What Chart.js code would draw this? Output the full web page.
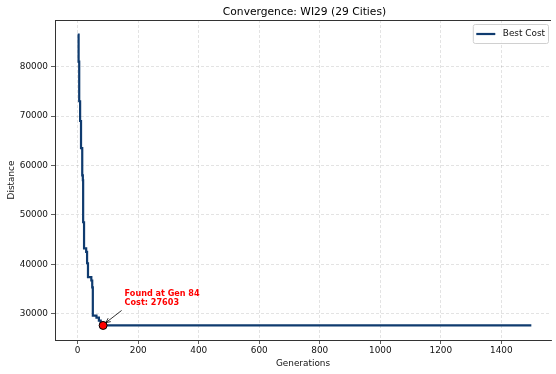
<!DOCTYPE html>
<html>
<head>
<meta charset="utf-8">
<script src="https://cdn.jsdelivr.net/npm/chart.js@4.4.1/dist/chart.umd.min.js"></script>
<style>
  html, body { margin: 0; padding: 0; background: #fff; }
  #myChart { display: block; }
</style>
</head>
<body>
<canvas id="myChart" width="556" height="374"></canvas>
<script>
// generations where best cost changed, and the cost from then on
let gens  = [0, 3, 5, 8, 11, 15, 17, 18, 21, 28, 31, 34, 45, 48, 50, 62, 70, 76, 84, 1499];
let costs = [86500, 81000, 73000, 69000, 63500, 58000, 57000, 48500, 43200, 42500, 40200, 37400, 36700, 35300, 29600, 29200, 28600, 28200, 27603, 27603];

let bestGen = 84;
let bestCost = 27603;

let xTicks = [0, 200, 400, 600, 800, 1000, 1200, 1400];
let yTicks = [30000, 40000, 50000, 60000, 70000, 80000];

// the original picture is cut off a little before the right edge of its axes
let xRange = [-75, 1564];

const titleText = 'Convergence: WI29 (29 Cities)';
const lineColor = '#0f3b6f';

Chart.defaults.font.family = "'DejaVu Sans', sans-serif";
Chart.defaults.color = '#111';

// matplotlib style 5% margins on y
const ySpan = Math.max(...costs) - Math.min(...costs);

let bestCostData = [];
for (let i = 0; i < gens.length; i++)
{
    bestCostData.push({ x: gens[i], y: costs[i] });
}

const extras = {
    id: 'extras',
    afterDraw(chart) {
        const ctx = chart.ctx;
        const a = chart.chartArea;
        ctx.save();

        // top spine (left/bottom come from the scales)
        ctx.strokeStyle = '#333';
        ctx.lineWidth = 1;
        ctx.beginPath();
        ctx.moveTo(a.left, a.top + 0.5);
        ctx.lineTo(a.right, a.top + 0.5);
        ctx.stroke();

        // title, centred on the full axes width
        const fullRight = chart.scales.x.getPixelForValue(xRange[0] + (gens[gens.length - 1] - gens[0]) * 1.1);
        ctx.fillStyle = '#000';
        ctx.font = "10.7px 'DejaVu Sans'";
        ctx.textAlign = 'center';
        ctx.textBaseline = 'middle';
        ctx.fillText(titleText, (a.left + fullRight) / 2, 12.5);

        // annotation
        const px = chart.scales.x.getPixelForValue(bestGen);
        const py = chart.scales.y.getPixelForValue(bestCost);
        const tx = px + 18.5, ty = py - 15;
        const hx = px + 2.8, hy = py - 2.8;
        ctx.strokeStyle = '#000';
        ctx.lineWidth = 0.8;
        ctx.beginPath();
        ctx.moveTo(tx, ty);
        ctx.lineTo(hx, hy);
        const ang = Math.atan2(hy - ty, hx - tx);
        for (const s of [-0.45, 0.45]) {
            ctx.moveTo(hx, hy);
            ctx.lineTo(hx - 5 * Math.cos(ang + s), hy - 5 * Math.sin(ang + s));
        }
        ctx.stroke();

        ctx.fillStyle = '#ff0000';
        ctx.font = "bold 8.1px 'DejaVu Sans'";
        ctx.textAlign = 'left';
        ctx.fillText('Found at Gen ' + bestGen, px + 21.5, py - 31.5);
        ctx.fillText('Cost: ' + bestCost, px + 21.5, py - 22.3);

        // legend
        ctx.font = "8.9px 'DejaVu Sans'";
        const label = 'Best Cost';
        const w = 3 + 19.5 + 7 + ctx.measureText(label).width + 3.5;
        const h = 19;
        const bx = a.right - 3 - w, by = a.top + 4;
        ctx.fillStyle = 'rgba(255,255,255,0.8)';
        ctx.strokeStyle = '#d0d0d0';
        ctx.lineWidth = 1;
        ctx.beginPath();
        ctx.roundRect(bx + 0.5, by + 0.5, w, h, 2);
        ctx.fill();
        ctx.stroke();
        ctx.strokeStyle = lineColor;
        ctx.lineWidth = 2.2;
        ctx.beginPath();
        ctx.moveTo(bx + 3.5, by + h / 2 + 0.5);
        ctx.lineTo(bx + 22.5, by + h / 2 + 0.5);
        ctx.stroke();
        ctx.fillStyle = '#111';
        ctx.textBaseline = 'middle';
        ctx.fillText(label, bx + 30, by + h / 2 + 0.5);

        ctx.restore();
    }
};

const config = {
    type: 'line',
    data: {
        datasets: [
            {
                label: 'Best Cost',
                data: bestCostData,
                borderColor: lineColor,
                backgroundColor: lineColor,
                borderWidth: 2.2,
                stepped: true,
                pointRadius: 0,
                fill: false,
                order: 2
            },
            {
                label: 'Best',
                data: [{ x: bestGen, y: bestCost }],
                showLine: false,
                pointRadius: 4,
                pointBackgroundColor: '#ff0000',
                pointBorderColor: '#000',
                pointBorderWidth: 1,
                order: 1
            }
        ]
    },
    plugins: [extras],
    options: {
        responsive: false,
        animation: false,
        devicePixelRatio: 1,
        layout: { padding: { top: 20, right: 0, left: 0, bottom: 0 } },
        plugins: {
            legend: { display: false },
            title: { display: false },
            tooltip: { enabled: false }
        },
        scales: {
            x: {
                type: 'linear',
                min: xRange[0],
                max: xRange[1],
                afterFit: (s) => { s.height = 34; s.paddingLeft = 0; s.paddingRight = 0; },
                afterBuildTicks: (s) => { s.ticks = xTicks.map(v => ({ value: v })); },
                ticks: { font: { size: 8.9 }, color: '#111', padding: 1.5, maxRotation: 0, callback: (v) => String(v) },
                grid: {
                    color: 'rgba(0,0,0,0.14)',
                    lineWidth: 0.8,
                    tickColor: '#333',
                    tickLength: 4,
                    tickWidth: 0.8,
                    tickBorderDash: []
                },
                border: { color: '#333', width: 1, dash: [3, 2] },
                title: { display: true, text: 'Generations', font: { size: 8.9 }, color: '#111', padding: { top: 0, bottom: 4.7 } }
            },
            y: {
                type: 'linear',
                min: Math.min(...costs) - ySpan * 0.05,
                max: Math.max(...costs) + ySpan * 0.05,
                afterFit: (s) => { s.width = 55; },
                afterBuildTicks: (s) => { s.ticks = yTicks.map(v => ({ value: v })); },
                ticks: { font: { size: 8.9 }, color: '#111', padding: 3, callback: (v) => String(v) },
                grid: {
                    color: 'rgba(0,0,0,0.14)',
                    lineWidth: 0.8,
                    tickColor: '#333',
                    tickLength: 4,
                    tickWidth: 0.8,
                    tickBorderDash: []
                },
                border: { color: '#333', width: 1, dash: [3, 2] },
                title: { display: true, text: 'Distance', font: { size: 8.9 }, color: '#111', padding: { top: 6.7, bottom: 0 } }
            }
        }
    }
};

var myChart = new Chart(document.getElementById('myChart'), config);
</script>
</body>
</html>
